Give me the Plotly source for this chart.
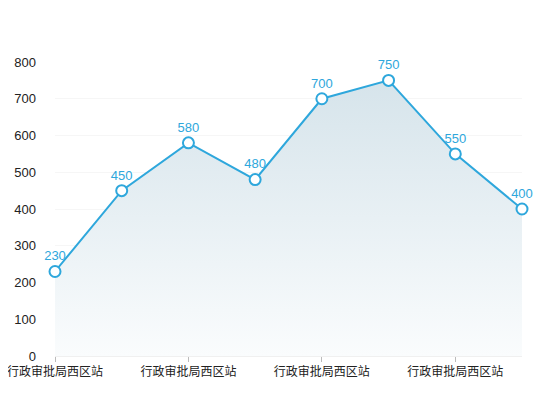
import plotly.graph_objects as go

categories = ["行政审批局西区站"] * 8
values = [230, 450, 580, 480, 700, 750, 550, 400]
y_ticks = [0, 100, 200, 300, 400, 500, 600, 700, 800]

x_idx = list(range(len(categories)))
line_color = "#2ea7dc"
font_fam = "Liberation Sans, Noto Sans CJK SC, sans-serif"

fig = go.Figure()
fig.add_trace(go.Scatter(
    x=x_idx, y=values,
    mode="lines+markers+text",
    text=[str(v) for v in values],
    textposition="top center",
    textfont=dict(color=line_color, size=13, family=font_fam),
    line=dict(color=line_color, width=2),
    marker=dict(size=11, color="white", line=dict(color=line_color, width=2)),
    fill="tozeroy",
    fillgradient=dict(type="vertical",
                      colorscale=[[0, "rgba(250,252,253,1)"], [1, "rgba(214,228,235,1)"]]),
    cliponaxis=False,
    hoverinfo="skip",
))

fig.update_layout(
    width=550, height=420,
    margin=dict(l=47, r=36, t=54, b=72, autoexpand=False),
    paper_bgcolor="white", plot_bgcolor="white",
    showlegend=False,
    font=dict(family=font_fam, size=12, color="#222"),
)
fig.update_xaxes(
    range=[0, len(categories) - 1],
    tickmode="array",
    tickvals=x_idx[::2],
    ticktext=categories[::2],
    showgrid=False, zeroline=False,
    showline=True, linecolor="#f0f0f0", linewidth=1,
    ticks="outside", ticklen=5, tickcolor="#bbbbbb",
    tickfont=dict(size=12, color="#222"),
    ticklabeloverflow="allow",
    automargin=False,
)
fig.update_yaxes(
    range=[0, 800],
    tickmode="array", tickvals=y_ticks,
    showgrid=True, gridcolor="#f6f6f6", gridwidth=1,
    zeroline=False, showline=False,
    ticks="", ticklabelstandoff=18,
    tickfont=dict(size=13, color="#222"),
    ticklabeloverflow="allow",
    automargin=False,
)
fig.write_html("out.html")
